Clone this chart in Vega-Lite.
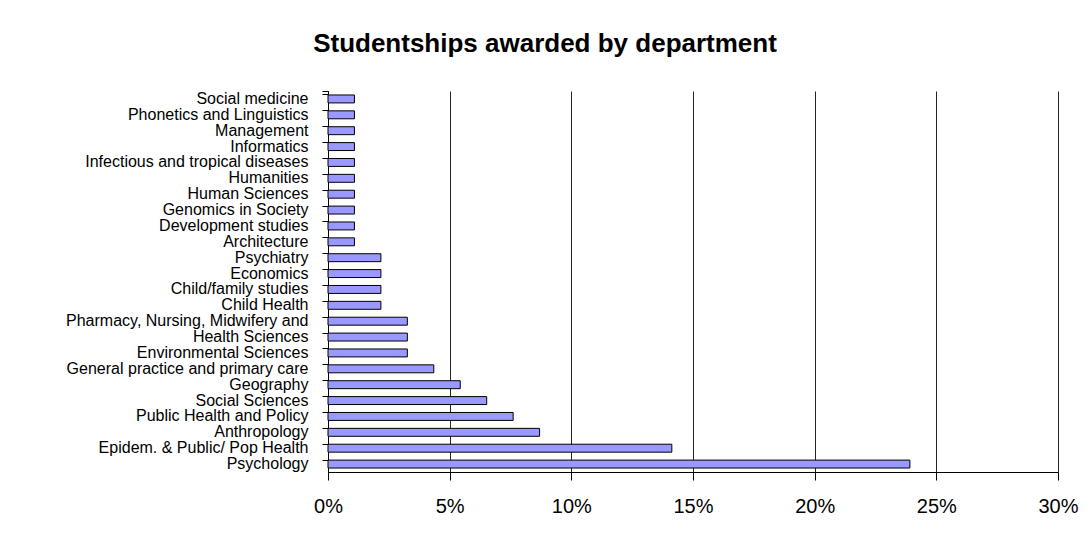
{
  "$schema": "https://vega.github.io/schema/vega-lite/v6.json",
  "autosize": "none",
  "width": 730,
  "height": 381,
  "padding": {"left": 328, "top": 91, "right": 31, "bottom": 62},
  "background": "white",
  "title": {
    "text": "Studentships awarded by department",
    "font": "Liberation Sans",
    "fontSize": 26,
    "fontWeight": "bold",
    "color": "black",
    "anchor": "middle",
    "frame": "group",
    "dx": -148,
    "offset": 26
  },
  "data": {
    "values": [
      {"department": "Social medicine", "share": 0.01087, "order": 1},
      {"department": "Phonetics and Linguistics", "share": 0.01087, "order": 2},
      {"department": "Management", "share": 0.01087, "order": 3},
      {"department": "Informatics", "share": 0.01087, "order": 4},
      {"department": "Infectious and tropical diseases", "share": 0.01087, "order": 5},
      {"department": "Humanities", "share": 0.01087, "order": 6},
      {"department": "Human Sciences", "share": 0.01087, "order": 7},
      {"department": "Genomics in Society", "share": 0.01087, "order": 8},
      {"department": "Development studies", "share": 0.01087, "order": 9},
      {"department": "Architecture", "share": 0.01087, "order": 10},
      {"department": "Psychiatry", "share": 0.02174, "order": 11},
      {"department": "Economics", "share": 0.02174, "order": 12},
      {"department": "Child/family studies", "share": 0.02174, "order": 13},
      {"department": "Child Health", "share": 0.02174, "order": 14},
      {"department": "Pharmacy, Nursing, Midwifery and", "share": 0.03261, "order": 15},
      {"department": "Health Sciences", "share": 0.03261, "order": 16},
      {"department": "Environmental Sciences", "share": 0.03261, "order": 17},
      {"department": "General practice and primary care", "share": 0.04348, "order": 18},
      {"department": "Geography", "share": 0.05435, "order": 19},
      {"department": "Social Sciences ", "share": 0.06522, "order": 20},
      {"department": "Public Health and Policy", "share": 0.07609, "order": 21},
      {"department": "Anthropology", "share": 0.08696, "order": 22},
      {"department": "Epidem. & Public/ Pop Health", "share": 0.1413, "order": 23},
      {"department": "Psychology", "share": 0.23913, "order": 24}
    ]
  },
  "mark": {"type": "bar", "fill": "#9999FF", "stroke": "black", "strokeWidth": 1},
  "encoding": {
    "y": {
      "field": "department",
      "type": "nominal",
      "sort": {"field": "order", "order": "ascending"},
      "scale": {"paddingInner": 0.5, "paddingOuter": 0.25},
      "axis": {
        "title": null,
        "bandPosition": 0,
        "tickExtra": true,
        "ticks": true,
        "tickSize": 6,
        "tickColor": "black",
        "domainColor": "black",
        "labelFont": "Liberation Sans",
        "labelFontSize": 16,
        "labelColor": "black",
        "labelPadding": 14,
        "labelLimit": 400,
        "grid": false
      }
    },
    "x": {
      "field": "share",
      "type": "quantitative",
      "scale": {"domain": [0, 0.3], "nice": false},
      "axis": {
        "title": null,
        "format": ".0%",
        "values": [0, 0.05, 0.1, 0.15, 0.2, 0.25, 0.3],
        "grid": true,
        "gridColor": "black",
        "gridOpacity": 0.85,
        "tickColor": "black",
        "tickSize": 8,
        "domainColor": "black",
        "labelFont": "Liberation Sans",
        "labelFontSize": 20,
        "labelColor": "black",
        "labelFlush": false,
        "labelPadding": 16
      }
    }
  },
  "config": {"view": {"stroke": null}}
}
